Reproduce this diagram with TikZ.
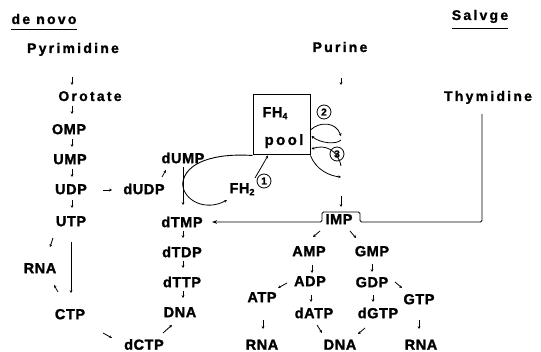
\documentclass[tikz,border=0pt]{standalone}
\usepackage{fontspec}
\setmainfont{Liberation Sans}
\newfontfamily\headfont{Liberation Sans}[LetterSpace=16,FakeBold=1.2]
\newfontfamily\molfont{Liberation Sans}[LetterSpace=4,FakeBold=1.5]
\usetikzlibrary{arrows.meta,calc}
\tikzset{
 mol/.style={inner sep=0pt, font=\molfont\bfseries\fontsize{14.5}{14.5}\selectfont, text height=10.4pt, text depth=0pt},
 head/.style={inner sep=0pt, font=\headfont\bfseries\fontsize{14}{14}\selectfont, text height=10pt, text depth=0pt},
 sarr/.style={-{Stealth[length=2.8pt,width=2.8pt]}, line width=0.8pt},
 plain/.style={line width=0.9pt},
 larr/.style={-{Stealth[length=5pt,width=3.6pt]}, line width=0.9pt},
 circ/.style={circle, draw, line width=0.8pt, inner sep=0pt, minimum size=14pt, font=\molfont\bfseries\fontsize{10}{10}\selectfont},
}
\newcommand\tk[4]{\draw[sarr] ([shift={#2}]#1.center) -- ([shift={#4}]#3.center);}
\begin{document}
\begin{tikzpicture}[x=1pt,y=-1pt]
\useasboundingbox (0,0) rectangle (541,352);
% headings
\node[head] (denovo) at (44,19) {de novo};
\node[head] (salvge) at (480,15) {Salvge};
\draw[line width=1.3pt] ([yshift=-5pt]denovo.south west) -- ([yshift=-5pt]denovo.south east);
\draw[line width=1.3pt] ([yshift=-8pt]salvge.south west) -- ([yshift=-8pt]salvge.south east);
\node[head] (pyr) at (73,48) {Pyrimidine};
\node[head] (purine) at (340,47) {Purine};
\node[head] (thym) at (488,96) {Thymidine};
% pyrimidine column
\node[head] (orot) at (90,96) {Orotate};
\node[mol] (OMP) at (69,129) {OMP};
\node[mol] (UMP) at (70,159) {UMP};
\node[mol] (UDP) at (71,189) {UDP};
\node[mol] (UTP) at (71,221) {UTP};
\node[mol] (RNA1) at (40,268) {RNA};
\node[mol] (CTP) at (70,314) {CTP};
\node[mol] (dUDP) at (144,189) {dUDP};
\node[mol] (dCTP) at (144,344.5) {dCTP};
% thymidylate column
\node[mol] (dUMP) at (183,158) {dUMP};
\node[mol] (dTMP) at (182,222) {dTMP};
\node[mol] (dTDP) at (182,252) {dTDP};
\node[mol] (dTTP) at (182,282) {dTTP};
\node[mol] (DNA1) at (180,312) {DNA};
\node[mol] (FH2) at (242,188) {FH\raisebox{-2pt}{\fontsize{9}{9}\selectfont 2}};
\node[circ] (c1) at (264,181) {1};
% FH4 pool
\node[draw, line width=1pt, minimum width=57pt, minimum height=60pt, inner sep=0pt] (fhbox) at (281.5,125) {};
\node[mol] (fh4) at (275,112) {FH\raisebox{-2pt}{\fontsize{9}{9}\selectfont 4}};
\node[head, font=\headfont\bfseries\fontsize{15}{15}\selectfont, text height=11pt] (pooltxt) at (284,139.5) {pool};
\node[circ] (c2) at (324,112) {2};
\node[circ] (c3) at (337,154) {3};
% purine part
\node[mol] (IMP) at (339,219) {IMP};
\node[mol] (AMP) at (309,251) {AMP};
\node[mol] (GMP) at (372,251) {GMP};
\node[mol] (ADP) at (310,281) {ADP};
\node[mol] (GDP) at (372,282) {GDP};
\node[mol] (ATP) at (262,297) {ATP};
\node[mol] (GTP) at (419,299) {GTP};
\node[mol] (dATP) at (314,313) {dATP};
\node[mol] (dGTP) at (378,313) {dGTP};
\node[mol] (RNA2) at (262,344.5) {RNA};
\node[mol] (DNA2) at (340,344.5) {DNA};
\node[mol] (RNA3) at (421,344.5) {RNA};
% short arrows, pyrimidine side
\tk{pyr}{(-1,29)}{orot}{(-18,-11)}
\tk{orot}{(-18,10)}{OMP}{(3,-15)}
\tk{OMP}{(3,10)}{UMP}{(2,-12)}
\tk{UMP}{(2,10)}{UDP}{(1,-12)}
\tk{UDP}{(1,11)}{UTP}{(1,-13)}
\tk{UTP}{(0,21)}{CTP}{(1,-21)}
\tk{UTP}{(-18,17)}{RNA1}{(10,-21)}
\tk{CTP}{(-12,-22)}{RNA1}{(14,17)}
\tk{UDP}{(32,1)}{dUDP}{(-32,1)}
\tk{dUDP}{(18,-12)}{dUMP}{(-17,12)}
\tk{CTP}{(33,19)}{dCTP}{(-32,-6.5)}
\tk{dCTP}{(19,-11.5)}{DNA1}{(-8,13)}
\tk{dTMP}{(1,9)}{dTDP}{(1,-14)}
\tk{dTDP}{(1,9)}{dTTP}{(1,-14)}
\tk{dTTP}{(1,9)}{DNA1}{(3,-14)}
% short arrows, purine side
\tk{purine}{(1,31)}{purine}{(1,38)}
\tk{IMP}{(2,-23)}{IMP}{(2,-12)}
\tk{IMP}{(-19,12)}{AMP}{(4,-14)}
\tk{IMP}{(11,12)}{GMP}{(-16,-13)}
\tk{AMP}{(3,14)}{ADP}{(2,-8)}
\tk{ADP}{(-23,2)}{ATP}{(16,-9)}
\tk{ADP}{(1,14)}{dATP}{(-3,-11)}
\tk{ATP}{(1,23)}{RNA2}{(1,-15.5)}
\tk{dATP}{(3,12)}{DNA2}{(-18,-11.5)}
\tk{GMP}{(0,13)}{GDP}{(0,-10)}
\tk{GDP}{(23,0)}{GTP}{(-17,-11)}
\tk{GDP}{(1,13)}{dGTP}{(-5,-11)}
\tk{dGTP}{(-13,15)}{DNA2}{(18,-10.5)}
\tk{GTP}{(0,21)}{RNA3}{(-2,-15.5)}
% thymidylate synthase cycle
\draw[sarr] ([shift={(0,9)}]dUMP.center) -- ([shift={(1,-17)}]dTMP.center);
\coordinate (j) at ($(dUMP.center)!0.4!(dTMP.center)$);
\draw[plain] (fhbox.south west) .. controls (215,153) and (185,162) .. (j);
\draw[sarr] (j) .. controls (183,200) and (205,212) .. ([shift={(-15,12)}]FH2.center);
\draw[sarr] ([shift={(13,-10)}]FH2.center) .. controls (262,166) .. ([xshift=-13.5pt]fhbox.south);
% loops 2 and 3
\draw[sarr] ([shift={(0,5)}]fhbox.east) .. controls (320,121) and (336,122) .. ([shift={(1,89)}]purine.center);
\draw[sarr] ([shift={(1,93)}]purine.center) .. controls (336,145) and (320,143) .. ([shift={(1,11)}]fhbox.east);
\draw[sarr] ([shift={(1,119)}]purine.center) .. controls (338,150) and (325,144) .. ([shift={(1,24)}]fhbox.east);
\draw[sarr] (fhbox.south east) .. controls (316,170) and (330,176) .. ([shift={(1,130)}]purine.center);
% salvage line
\draw[larr, rounded corners=1.5pt] ([shift={(-6,18)}]thym.center) |- ([shift={(21,3)}]IMP.center) |- ([shift={(-17,-7)}]IMP.center) |- ([shift={(30,0)}]dTMP.center);
\end{tikzpicture}
\end{document}
